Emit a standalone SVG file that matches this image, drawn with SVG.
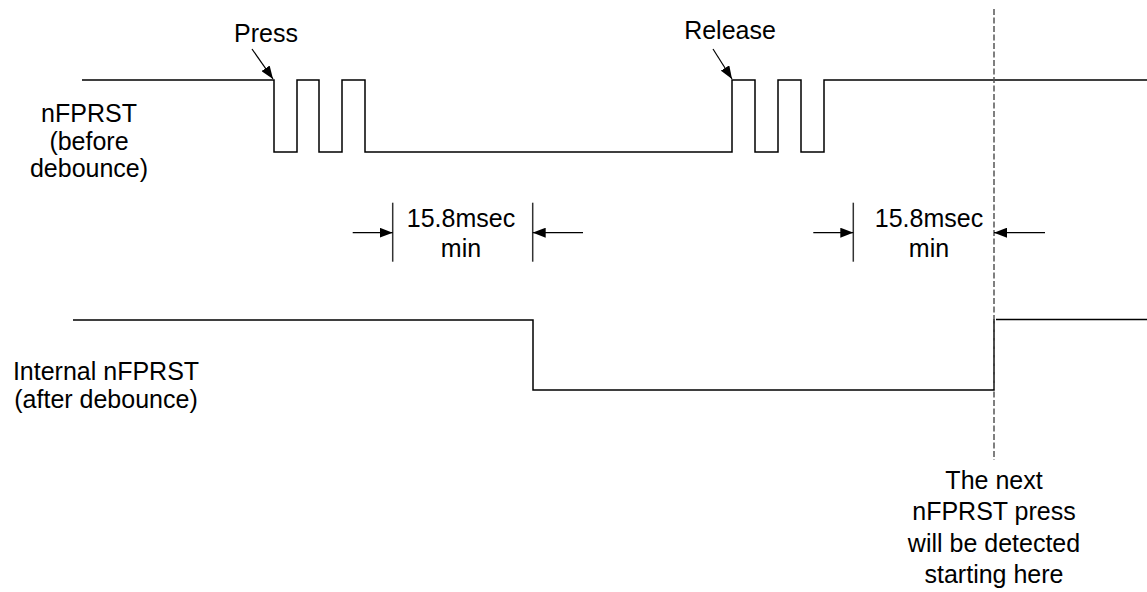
<svg xmlns="http://www.w3.org/2000/svg" width="1147" height="592" viewBox="0 0 1147 592">
<style>
text{font-family:"Liberation Sans",Arial,sans-serif;font-size:25px;fill:#000;text-anchor:middle}
.sig{fill:none;stroke:#000;stroke-width:1.5}
.dim{fill:none;stroke:#000;stroke-width:1.2}
.bar{fill:none;stroke:#333;stroke-width:1.5}
.dash{fill:none;stroke:#555;stroke-width:1.5;stroke-dasharray:6 2.5}
</style>
<defs>
<marker id="ah" viewBox="0 0 13 10" refX="13" refY="5" markerWidth="13" markerHeight="10" markerUnits="userSpaceOnUse" orient="auto">
<path d="M0,0 L13,5 L0,10 Z" fill="#000"/>
</marker>
</defs>
<g id="labels">
<g id="label-before"><text x="89" y="121.7">nFPRST</text><text x="89" y="149.5">(before</text><text x="89" y="177">debounce)</text></g>
<g id="label-after"><text x="106" y="380">Internal nFPRST</text><text x="106" y="407.5">(after debounce)</text></g>
<g id="label-press"><text x="266" y="41.7">Press</text></g>
<g id="label-release"><text x="730" y="39.3">Release</text></g>
<g id="label-next"><text x="994" y="489">The next</text><text x="994" y="520">nFPRST press</text><text x="994" y="551.5">will be detected</text><text x="994" y="583">starting here</text></g>
</g>
<g id="signal-before">
<polyline class="sig" points="82,80 274,80 274,152 297,152 297,80 319,80 319,152 342,152 342,80 365,80 365,152 732,152 732,80 755,80 755,152 778,152 778,80 801,80 801,152 824,152 824,80 1147,80"/>
</g>
<g id="signal-after">
<polyline class="sig" points="73,320 533,320 533,390 994,390 994,319"/>
<line class="sig" x1="996" y1="319.5" x2="1147" y2="319.5"/>
</g>
<g id="dim1">
<line class="bar" x1="392.7" y1="202.7" x2="392.7" y2="261.7"/>
<line class="bar" x1="532.7" y1="202.7" x2="532.7" y2="261.7"/>
<text x="461" y="226.7">15.8msec</text><text x="461" y="256.7">min</text>
</g>
<g id="dim2">
<line class="bar" x1="853.3" y1="202.7" x2="853.3" y2="261.7"/>
<text x="929" y="226.7">15.8msec</text><text x="929" y="256.7">min</text>
</g>
<g id="marker-line">
<line class="dash" x1="994" y1="9" x2="994" y2="460"/>
</g>
<g id="connectors">
<line class="dim" x1="252" y1="49" x2="273" y2="79" marker-end="url(#ah)"/>
<line class="dim" x1="713" y1="49" x2="732" y2="79" marker-end="url(#ah)"/>
<line class="dim" x1="352.7" y1="232.7" x2="392.7" y2="232.7" marker-end="url(#ah)"/>
<line class="dim" x1="583" y1="232.7" x2="532.7" y2="232.7" marker-end="url(#ah)"/>
<line class="dim" x1="813.3" y1="232.7" x2="853.3" y2="232.7" marker-end="url(#ah)"/>
<line class="dim" x1="1045" y1="232.7" x2="994" y2="232.7" marker-end="url(#ah)"/>
</g>
</svg>
